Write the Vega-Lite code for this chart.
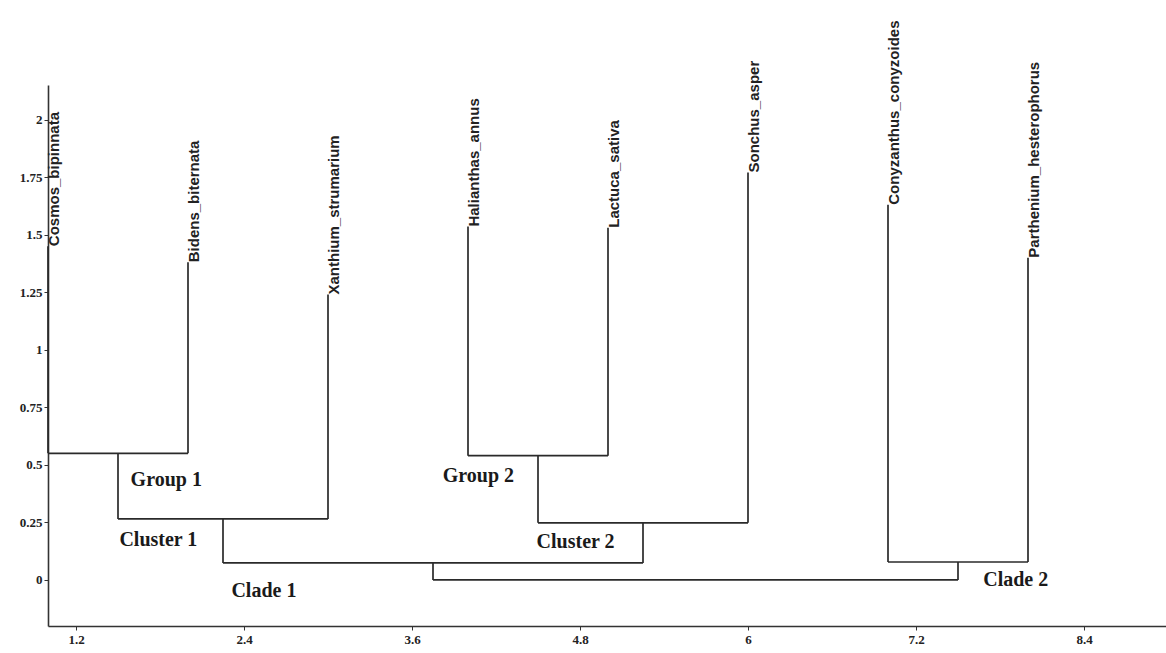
{
  "$schema": "https://vega.github.io/schema/vega-lite/v6.json",
  "autosize": {"type": "none"},
  "padding": {"left": 48, "top": 85, "right": 0, "bottom": 27},
  "width": 1120,
  "height": 541,
  "background": "white",
  "config": {"view": {"stroke": null}},
  "datasets": {
    "segs": [
      {"part": "Cosmos_bipinnata", "x1": 1, "x2": 1, "y1": 1.45, "y2": 0.55},
      {"part": "Bidens_biternata", "x1": 2, "x2": 2, "y1": 1.38, "y2": 0.55},
      {"part": "Group 1 join", "x1": 1, "x2": 2, "y1": 0.55, "y2": 0.55},
      {"part": "Group 1 stem", "x1": 1.5, "x2": 1.5, "y1": 0.55, "y2": 0.265},
      {"part": "Xanthium_strumarium", "x1": 3, "x2": 3, "y1": 1.24, "y2": 0.265},
      {"part": "Cluster 1 join", "x1": 1.5, "x2": 3, "y1": 0.265, "y2": 0.265},
      {"part": "Cluster 1 stem", "x1": 2.25, "x2": 2.25, "y1": 0.265, "y2": 0.074},
      {"part": "Halianthas_annus", "x1": 4, "x2": 4, "y1": 1.535, "y2": 0.54},
      {"part": "Lactuca_sativa", "x1": 5, "x2": 5, "y1": 1.53, "y2": 0.54},
      {"part": "Group 2 join", "x1": 4, "x2": 5, "y1": 0.54, "y2": 0.54},
      {"part": "Group 2 stem", "x1": 4.5, "x2": 4.5, "y1": 0.54, "y2": 0.248},
      {"part": "Sonchus_asper", "x1": 6, "x2": 6, "y1": 1.77, "y2": 0.248},
      {"part": "Cluster 2 join", "x1": 4.5, "x2": 6, "y1": 0.248, "y2": 0.248},
      {"part": "Cluster 2 stem", "x1": 5.25, "x2": 5.25, "y1": 0.248, "y2": 0.074},
      {"part": "Clade 1 join", "x1": 2.25, "x2": 5.25, "y1": 0.074, "y2": 0.074},
      {"part": "Clade 1 stem", "x1": 3.75, "x2": 3.75, "y1": 0.074, "y2": 0},
      {"part": "Conyzanthus_conyzoides", "x1": 7, "x2": 7, "y1": 1.63, "y2": 0.078},
      {"part": "Parthenium_hesterophorus", "x1": 8, "x2": 8, "y1": 1.4, "y2": 0.078},
      {"part": "Clade 2 join", "x1": 7, "x2": 8, "y1": 0.078, "y2": 0.078},
      {"part": "Clade 2 stem", "x1": 7.5, "x2": 7.5, "y1": 0.078, "y2": 0},
      {"part": "Root join", "x1": 3.75, "x2": 7.5, "y1": 0, "y2": 0}
    ],
    "leaves": [
      {"name": "Cosmos_bipinnata", "x": 1, "y": 1.45},
      {"name": "Bidens_biternata", "x": 2, "y": 1.38},
      {"name": "Xanthium_strumarium", "x": 3, "y": 1.24},
      {"name": "Halianthas_annus", "x": 4, "y": 1.535},
      {"name": "Lactuca_sativa", "x": 5, "y": 1.53},
      {"name": "Sonchus_asper", "x": 6, "y": 1.77},
      {"name": "Conyzanthus_conyzoides", "x": 7, "y": 1.63},
      {"name": "Parthenium_hesterophorus", "x": 8, "y": 1.4}
    ],
    "groups": [
      {"label": "Group 1", "x": 1.59, "y": 0.435},
      {"label": "Cluster 1", "x": 1.51, "y": 0.174},
      {"label": "Clade 1", "x": 2.31, "y": -0.05},
      {"label": "Group 2", "x": 3.82, "y": 0.452},
      {"label": "Cluster 2", "x": 4.49, "y": 0.163},
      {"label": "Clade 2", "x": 7.68, "y": 0.0}
    ]
  },
  "layer": [
    {
      "data": {"name": "segs"},
      "mark": {"type": "rule", "color": "#2a2a2a", "strokeWidth": 1.7},
      "encoding": {
        "x": {
          "field": "x1", "type": "quantitative",
          "scale": {"domain": [1, 9], "nice": false, "zero": false},
          "axis": {
            "title": null, "grid": false,
            "values": [1.2, 2.4, 3.6, 4.8, 6, 7.2, 8.4],
            "labelExpr": "datum.value + ''",
            "labelFont": "Liberation Serif", "labelFontWeight": "bold", "labelFontSize": 13,
            "labelColor": "#222", "tickColor": "#333", "domainColor": "#333",
            "domainWidth": 1.6, "tickSize": 4, "labelPadding": 3, "labelFlush": false
          }
        },
        "x2": {"field": "x2"},
        "y": {
          "field": "y1", "type": "quantitative",
          "scale": {"domain": [-0.2, 2.15], "nice": false, "zero": false},
          "axis": {
            "title": null, "grid": false,
            "values": [0, 0.25, 0.5, 0.75, 1, 1.25, 1.5, 1.75, 2],
            "labelExpr": "datum.value + ''",
            "labelFont": "Liberation Serif", "labelFontWeight": "bold", "labelFontSize": 13,
            "labelColor": "#222", "tickColor": "#333", "domainColor": "#333",
            "domainWidth": 1.6, "tickSize": 4, "labelPadding": 2, "labelFlush": false
          }
        },
        "y2": {"field": "y2"}
      }
    },
    {
      "data": {"name": "leaves"},
      "mark": {"type": "text", "angle": 270, "align": "left", "baseline": "top", "font": "Liberation Sans", "fontWeight": "bold", "fontSize": 15, "color": "#222", "dy": -1},
      "encoding": {
        "x": {"field": "x", "type": "quantitative"},
        "y": {"field": "y", "type": "quantitative"},
        "text": {"field": "name"}
      }
    },
    {
      "data": {"name": "groups"},
      "mark": {"type": "text", "align": "left", "baseline": "middle", "font": "Liberation Serif", "fontWeight": "bold", "fontSize": 20, "color": "#1a1a1a"},
      "encoding": {
        "x": {"field": "x", "type": "quantitative"},
        "y": {"field": "y", "type": "quantitative"},
        "text": {"field": "label"}
      }
    }
  ]
}
